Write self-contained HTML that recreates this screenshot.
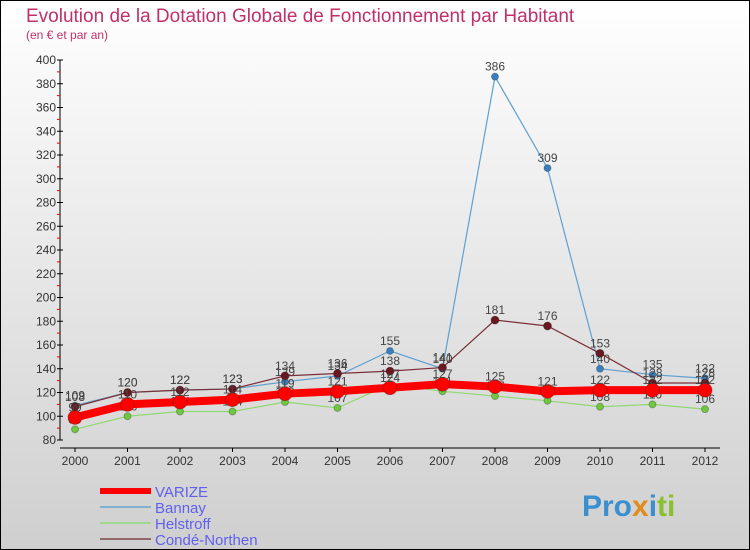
<!DOCTYPE html>
<html><head><meta charset="utf-8"><style>
body{margin:0}
#c{width:750px;height:550px;position:relative;overflow:hidden;font-family:"Liberation Sans",sans-serif}
</style></head><body>
<div id="c">
<svg id="s" width="750" height="550" xmlns="http://www.w3.org/2000/svg" font-family="Liberation Sans, sans-serif">
<defs><linearGradient id="bg" x1="0" y1="0" x2="0" y2="1"><stop offset="0" stop-color="#ffffff"/><stop offset="1" stop-color="#cfcfcf"/></linearGradient></defs>
<rect x="0.5" y="0.5" width="749" height="549" fill="url(#bg)" stroke="#000"/>
<text x="26" y="22" font-size="19" fill="#c0306a">Evolution de la Dotation Globale de Fonctionnement par Habitant</text>
<text x="26" y="39" font-size="12" fill="#c0306a">(en € et par an)</text>
<g id="axes"></g><g id="series"></g><g id="legend"></g>
<text x="582" y="516" font-size="30" font-weight="bold" fill="#3a8fd0">Pro<tspan fill="#e08a20">x</tspan><tspan fill="#3a8fd0">i</tspan><tspan fill="#8ac030">ti</tspan></text>
</svg></div>
<script>
const years=[2000,2001,2002,2003,2004,2005,2006,2007,2008,2009,2010,2011,2012];
const yTicks=[80,100,120,140,160,180,200,220,240,260,280,300,320,340,360,380,400];
const varize=[99,110,112,114,119,121,124,127,125,121,122,122,122];
const bannay=[109,120,122,123,129,134,155,140,386,309,140,135,132];
const helstroff=[89,100,104,104,112,107,127,121,117,113,108,110,106];
const conde=[108,120,122,123,134,136,138,141,181,176,153,128,128];
const NS="http://www.w3.org/2000/svg";
const X=i=>75+i*52.5, Y=v=>440-(v-80)*380/320;
function mk(t,a,p){const e=document.createElementNS(NS,t);for(const k in a)e.setAttribute(k,a[k]);p.appendChild(e);return e;}
const ax=document.getElementById('axes');
const yl=mk('line',{x1:60,y1:60,x2:60,y2:440,stroke:'#000'},ax);


yTicks.forEach((v,i)=>{
 mk('line',{x1:57,x2:63,y1:Y(v),y2:Y(v),stroke:'#000'},ax);
 if(i<yTicks.length-1)mk('line',{x1:57,x2:60,y1:Y(v+10),y2:Y(v+10),stroke:'#e00'},ax);
 const t=mk('text',{x:56,y:Y(v)+4,'font-size':12,'text-anchor':'end',fill:'#333'},ax);t.textContent=v;
 
 
});
const xl=mk('line',{x1:60,y1:448,x2:720,y2:448,stroke:'#000'},ax);


years.forEach((y,i)=>{
 mk('line',{x1:X(i),x2:X(i),y1:448,y2:452,stroke:'#000'},ax);
 const t=mk('text',{x:X(i),y:465,'font-size':12,'text-anchor':'middle',fill:'#333'},ax);t.textContent=y;
 
 
});
const sg=document.getElementById('series');
const ser=[{n:'bannay',d:bannay,c:'#5fa0d0',m:'#3a80c0',w:1.2,r:3.5},{n:'helstroff',d:helstroff,c:'#90d870',m:'#70c840',w:1.2,r:3.5},{n:'conde',d:conde,c:'#7a3038',m:'#6a1820',w:1.2,r:4},{n:'varize',d:varize,c:'#ff0000',m:'#ff0000',w:8,r:7}];
ser.forEach(s=>{
 const g=mk('g',{},sg);
 
 
 mk('polyline',{points:s.d.map((v,i)=>X(i)+','+Y(v)).join(' '),fill:'none',stroke:s.c,'stroke-width':s.w},g);
 s.d.forEach((v,i)=>{
  const p=mk('circle',{cx:X(i),cy:Y(v),r:s.r,fill:s.m,stroke:'rgba(0,0,0,0.25)'},g);
  
  
  const t=mk('text',{x:X(i),y:Y(v)-6,'font-size':12,'text-anchor':'middle',fill:'#444'},g);t.textContent=v;
  
  
 });
});
const lg=document.getElementById('legend');
const leg=[['VARIZE','#f00',6],['Bannay','#80b0d0',2],['Helstroff','#a0d890',2],['Condé-Northen','#906868',2]];
leg.forEach((l,i)=>{
 const y=491+i*16;
 mk('line',{x1:100,x2:151,y1:y,y2:y,stroke:l[1],'stroke-width':l[2]},lg);
 const t=mk('text',{x:155,y:y+6,'font-size':15,fill:'#6060f0'},lg);t.textContent=l[0];
 
 
});
</script>
</body></html>
